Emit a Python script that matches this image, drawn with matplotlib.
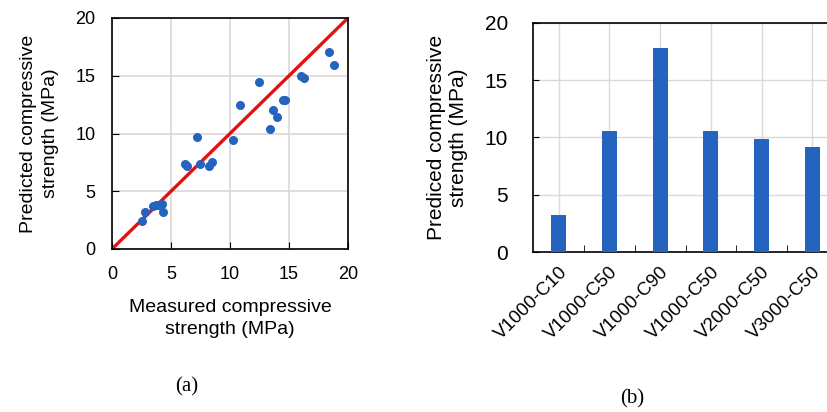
import numpy as np
import matplotlib.pyplot as plt

plt.rcParams['font.family'] = ['Liberation Sans', 'DejaVu Sans']

# (a) measured vs predicted
measured = [2.54, 2.80, 3.47, 3.76, 3.93, 4.21, 4.35, 6.19, 6.38, 7.20, 7.43, 8.25, 8.45,
            10.28, 10.88, 12.46, 13.42, 13.64, 14.01, 14.49, 14.69, 16.05, 16.24, 18.36, 18.81]
predicted = [2.45, 3.20, 3.69, 3.78, 3.84, 3.87, 3.20, 7.39, 7.19, 9.73, 7.39, 7.19, 7.56,
             9.41, 12.44, 14.43, 10.42, 12.03, 11.43, 12.87, 12.87, 15.01, 14.78, 17.06, 15.90]

# (b) predicted per mix
mixes = ["V1000-C10", "V1000-C50", "V1000-C90", "V1000-C50", "V2000-C50", "V3000-C50"]
mix_pred = [3.27, 10.6, 17.78, 10.6, 9.84, 9.14]

BLUE = "#2563c0"
RED = "#e31212"
GRID = "#d9d9d9"
W, H = 827, 412

fig = plt.figure(figsize=(8.27, 4.12), dpi=100)

ax1 = fig.add_axes([112 / W, 1 - 249 / H, 236 / W, 231 / H])
ax1.plot([0, 20], [0, 20], color=RED, lw=2.4, zorder=2)
ax1.scatter(measured, predicted, s=30, color=BLUE, zorder=3)
ax1.set_xlim(0, 20)
ax1.set_ylim(0, 20)
ax1.set_xticks([0, 5, 10, 15, 20])
ax1.set_yticks([0, 5, 10, 15, 20])
ax1.grid(True, color=GRID, lw=1.2)
ax1.set_axisbelow(True)
ax1.tick_params(direction="in", length=5, labelsize=13, pad=12)
for s in ax1.spines.values():
    s.set_linewidth(1.2)
ax1.set_xlabel("Measured compressive\nstrength (MPa)", fontsize=14, labelpad=12, linespacing=1.35)
ax1.set_ylabel("Predicted compressive\nstrength (MPa)", fontsize=14, labelpad=12, linespacing=1.35)

ax2 = fig.add_axes([533 / W, 1 - 252 / H, 294 / W, 229 / H])
x = np.arange(len(mixes))
ax2.bar(x, mix_pred, width=0.3, color=BLUE, zorder=3)
ax2.set_xlim(-0.507, 5.29)
ax2.set_ylim(0, 20)
ax2.set_yticks([0, 5, 10, 15, 20])
ax2.set_xticks(x)
ax2.set_xticklabels(mixes, rotation=45, ha="right", rotation_mode="anchor", fontsize=13.5)
ax2.set_xticks(x[:-1] + 0.5, minor=True)
ax2.tick_params(axis="x", which="major", length=0, pad=8)
ax2.tick_params(axis="x", which="minor", direction="in", length=5)
ax2.tick_params(axis="y", direction="in", length=4, labelsize=15, pad=18)
ax2.grid(True, color=GRID, lw=1.0)
ax2.set_axisbelow(True)
for s in ax2.spines.values():
    s.set_linewidth(1.2)
ax2.spines["right"].set_visible(False)
ax2.set_ylabel("Prediced compressive\nstrength (MPa)", fontsize=15, labelpad=12, linespacing=1.2)

fig.text(187 / W, 1 - 387 / H, "(a)", family="Liberation Serif", fontsize=15, ha="center", va="center")
fig.text(632 / W, 1 - 399 / H, "(b)", family="Liberation Serif", fontsize=15, ha="center", va="center")

fig.savefig("out.png", dpi=100)
